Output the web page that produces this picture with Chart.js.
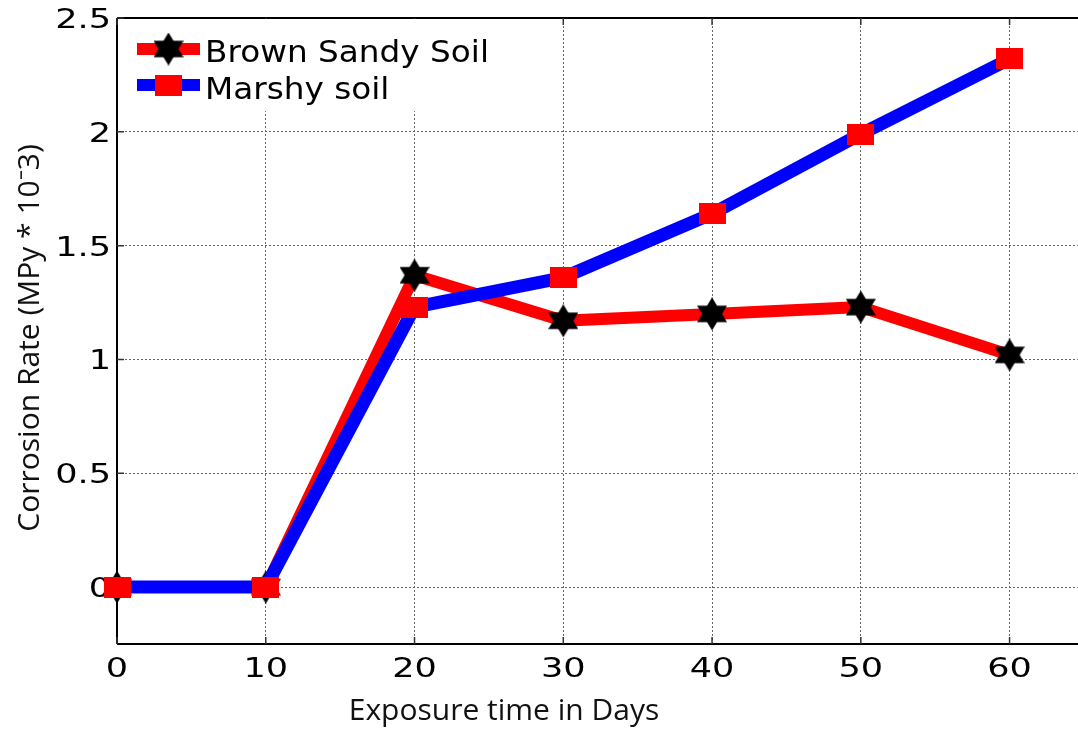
<!DOCTYPE html>
<html>
<head>
<meta charset="utf-8">
<script src="https://cdn.jsdelivr.net/npm/chart.js@4.4.1/dist/chart.umd.min.js"></script>
<style>
  body { margin: 0; background: #fff; overflow: hidden; }
</style>
</head>
<body>
<canvas id="corrosion" width="1078" height="731"></canvas>
<script>
const jours = [0, 10, 20, 30, 40, 50, 60];
const brownSandy = [0, 0, 1.37, 1.17, 1.2, 1.23, 1.02];
const marshy = [0, 0, 1.23, 1.36, 1.64, 1.99, 2.32];
const xTicks = [0, 10, 20, 30, 40, 50, 60];
const yTicks = [0, 0.5, 1, 1.5, 2, 2.5];
const noms = ['Brown Sandy Soil', 'Marshy soil'];
const xTitre = 'Exposure time in Days';
const yTitre = 'Corrosion Rate (MPy * 10\u207B3)';

// hexagram marker (two triangles) on a small canvas
function creerEtoile(w, h) {
    const c = document.createElement('canvas');
    c.width = w; c.height = h;
    const g = c.getContext('2d');
    const cx = w / 2, cy = h / 2, rx = w / 2, ry = h / 2;
    g.fillStyle = '#000';
    g.beginPath();
    g.moveTo(cx, 0);
    g.lineTo(cx + rx, cy + ry * 0.5);
    g.lineTo(cx - rx, cy + ry * 0.5);
    g.closePath();
    g.fill();
    g.beginPath();
    g.moveTo(cx, h);
    g.lineTo(cx + rx, cy - ry * 0.5);
    g.lineTo(cx - rx, cy - ry * 0.5);
    g.closePath();
    g.fill();
    return c;
}

function creerCarre(w, h) {
    const c = document.createElement('canvas');
    c.width = w; c.height = h;
    const g = c.getContext('2d');
    g.fillStyle = '#ff0000';
    g.fillRect(0, 0, w, h);
    return c;
}

const etoile = creerEtoile(30, 33);
const carre = creerCarre(27, 21);

// text squeezed/stretched horizontally
function texteEtire(ctx, txt, x, y, sx, align) {
    ctx.save();
    ctx.translate(x, y);
    ctx.scale(sx, 1);
    ctx.textAlign = align;
    ctx.textBaseline = 'alphabetic';
    ctx.fillText(txt, 0, 0);
    ctx.restore();
}

const cadre = {
    id: 'cadre',
    beforeDatasetsDraw(chart) {
        const ctx = chart.ctx;
        const a = chart.chartArea;
        const sx = chart.scales.x, sy = chart.scales.y;
        ctx.save();
        // axes box
        ctx.strokeStyle = '#000';
        ctx.lineWidth = 2;
        ctx.beginPath();
        ctx.moveTo(a.left, a.top); ctx.lineTo(a.right, a.top);
        ctx.moveTo(a.left, a.top); ctx.lineTo(a.left, a.bottom);
        ctx.moveTo(a.left, a.bottom); ctx.lineTo(a.right, a.bottom);
        ctx.stroke();
        // inward tick marks
        ctx.strokeStyle = '#333';
        ctx.lineWidth = 1.5;
        ctx.beginPath();
        xTicks.forEach(v => {
            const px = sx.getPixelForValue(v);
            ctx.moveTo(px, a.bottom); ctx.lineTo(px, a.bottom - 7);
            ctx.moveTo(px, a.top); ctx.lineTo(px, a.top + 7);
        });
        yTicks.forEach(v => {
            const py = sy.getPixelForValue(v);
            ctx.moveTo(a.left, py); ctx.lineTo(a.left + 7, py);
        });
        ctx.stroke();
        // tick labels
        ctx.fillStyle = '#000';
        ctx.font = '27px "DejaVu Sans"';
        xTicks.forEach(v => {
            texteEtire(ctx, String(v), sx.getPixelForValue(v), a.bottom + 33, 1.3, 'center');
        });
        yTicks.forEach(v => {
            texteEtire(ctx, String(v), a.left - 6, sy.getPixelForValue(v) + 10, 1.3, 'right');
        });
        // axis titles
        ctx.font = '30px "Open Sans"';
        ctx.fillStyle = '#111';
        ctx.textAlign = 'center';
        ctx.textBaseline = 'alphabetic';
        ctx.fillText(xTitre, 504, 720);
        ctx.translate(39, 338);
        ctx.rotate(-Math.PI / 2);
        ctx.fillText(yTitre, 0, 0);
        ctx.restore();
    },
    afterDatasetsDraw(chart) {
        const ctx = chart.ctx;
        const a = chart.chartArea;
        const lignes = [
            { nom: noms[0], couleur: '#ff0000', marque: etoile, y: 49, base: 62 },
            { nom: noms[1], couleur: '#0000ff', marque: carre, y: 85, base: 99 }
        ];
        ctx.save();
        ctx.fillStyle = '#fff';
        ctx.fillRect(a.left + 1, a.top + 1, 408, 92);
        lignes.forEach(l => {
            ctx.strokeStyle = l.couleur;
            ctx.lineWidth = 12;
            ctx.beginPath();
            ctx.moveTo(137, l.y); ctx.lineTo(200, l.y);
            ctx.stroke();
            ctx.drawImage(l.marque, 168.5 - l.marque.width / 2, l.y - l.marque.height / 2);
            ctx.fillStyle = '#000';
            ctx.font = '30px "DejaVu Sans"';
            texteEtire(ctx, l.nom, 205, l.base, 1.09, 'left');
        });
        ctx.restore();
    }
};

const ctx = document.getElementById('corrosion').getContext('2d');
const graphe = new Chart(ctx, {
    type: 'line',
    data: {
        datasets: [{
            label: noms[0],
            data: jours.map((j, i) => ({ x: j, y: brownSandy[i] })),
            borderColor: '#ff0000',
            borderWidth: 12,
            borderJoinStyle: 'round',
            pointStyle: etoile,
            pointRadius: 15,
            order: 1,
            clip: false,
            fill: false
        }, {
            label: noms[1],
            data: jours.map((j, i) => ({ x: j, y: marshy[i] })),
            borderColor: '#0000ff',
            borderWidth: 13,
            borderJoinStyle: 'round',
            pointStyle: carre,
            pointRadius: 13,
            order: 0,
            clip: false,
            fill: false
        }]
    },
    options: {
        responsive: false,
        animation: false,
        devicePixelRatio: 1,
        layout: { autoPadding: false, padding: { top: 18, right: 0, bottom: 0, left: 0 } },
        plugins: { legend: { display: false }, tooltip: { enabled: false } },
        scales: {
            x: {
                type: 'linear',
                min: 0,
                max: 64.6,
                afterBuildTicks: s => { s.ticks = xTicks.map(v => ({ value: v })); },
                afterFit: s => { s.height = 87; },
                ticks: { display: false },
                grid: { color: '#666', lineWidth: 1, drawTicks: false },
                border: { display: false, dash: [2, 2] }
            },
            y: {
                min: -0.25,
                max: 2.5,
                afterBuildTicks: s => { s.ticks = yTicks.map(v => ({ value: v })); },
                afterFit: s => { s.width = 117; },
                ticks: { display: false },
                grid: { color: '#666', lineWidth: 1, drawTicks: false },
                border: { display: false, dash: [2, 2] }
            }
        }
    },
    plugins: [cadre]
});
</script>
</body>
</html>
